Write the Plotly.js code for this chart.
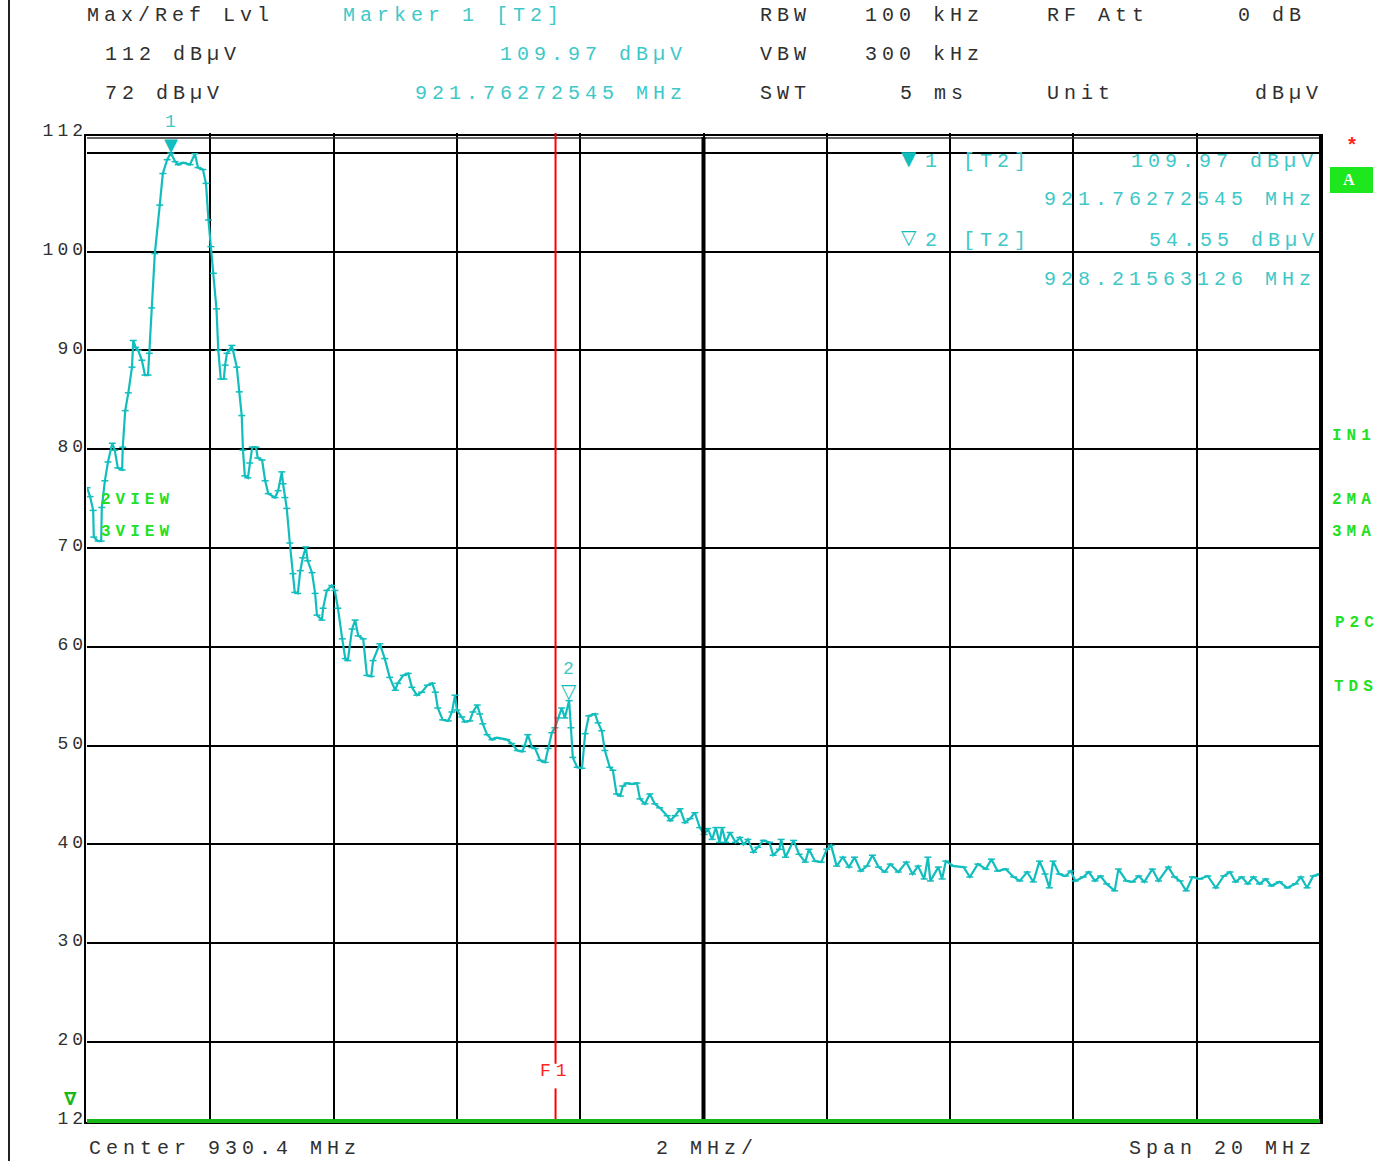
<!DOCTYPE html>
<html>
<head>
<meta charset="utf-8">
<script src="https://cdn.plot.ly/plotly-3.0.1.min.js"></script>
<style>
  html,body{margin:0;padding:0;background:#fff;}
  #chart{width:1390px;height:1161px;}
  .annotation-text{letter-spacing:5px;}
  .ytick text{letter-spacing:4px;}
</style>
</head>
<body>
<div id="chart"></div>
<script>
// ---- data (frequency in MHz, level in dBµV) ----
const freqMHz = [
920.40,920.45,920.50,920.51,920.58,920.63,920.64,920.69,920.74,920.81,920.85,920.90,920.97,920.98,
921.02,921.07,921.13,921.15,921.19,921.23,921.29,921.34,921.39,921.41,921.45,921.50,921.58,921.63,
921.70,921.76,921.83,921.88,921.96,922.07,922.15,922.20,922.28,922.33,922.37,922.41,922.45,922.50,
922.53,922.57,922.62,922.64,922.67,922.71,922.75,922.77,922.83,922.87,922.91,922.93,922.96,923.01,
923.04,923.08,923.14,923.17,923.24,923.29,923.34,923.45,923.50,923.56,923.58,923.61,923.64,923.69,
923.74,923.77,923.82,923.86,923.90,923.95,923.98,924.05,924.10,924.13,924.21,924.23,924.29,924.37,
924.42,924.47,924.54,924.59,924.63,924.70,924.75,924.80,924.88,924.94,925.01,925.04,925.15,925.23,
925.31,925.40,925.44,925.53,925.61,925.67,925.75,925.83,925.92,926.00,926.05,926.09,926.17,926.26,
926.32,926.37,926.40,926.48,926.53,926.61,926.66,926.73,926.77,926.82,926.89,926.97,927.05,927.13,
927.21,927.29,927.38,927.46,927.50,927.55,927.62,927.67,927.75,927.83,927.88,927.94,927.99,928.04,
928.10,928.15,928.22,928.25,928.28,928.35,928.43,928.48,928.54,928.64,928.69,928.75,928.80,928.88,
928.93,928.99,929.05,929.09,929.16,929.24,929.32,929.37,929.45,929.53,929.61,929.69,929.81,929.86,
929.94,930.02,930.10,930.18,930.26,
930.34,930.41,930.47,930.54,930.60,930.66,930.70,930.76,930.83,930.92,930.99,931.05,931.12,931.21,
931.28,931.37,931.47,931.53,931.63,931.66,931.73,931.86,931.95,932.05,932.11,932.21,932.31,932.40,
932.47,932.56,932.66,932.76,932.85,932.95,933.05,933.14,933.24,933.34,933.43,933.56,933.69,933.79,
933.88,933.98,934.04,934.08,934.21,934.27,934.33,934.46,934.62,934.72,934.85,934.98,935.07,935.17,
935.30,935.43,935.53,935.65,935.75,935.85,935.94,936.01,936.07,936.17,936.27,936.36,936.43,936.56,
936.65,936.75,936.84,936.94,937.07,937.13,937.26,937.36,937.46,937.55,937.68,937.78,937.94,938.04,
938.13,938.23,938.33,938.45,938.58,938.71,938.84,938.94,939.03,939.13,939.23,939.32,939.42,939.52,
939.61,939.74,939.87,940.00,940.09,940.19,940.29,940.40
];
const levelDbuV = [
76.1,75.2,73.8,71.1,70.7,70.7,74.1,76.8,78.7,80.6,79.9,78.1,77.9,80.2,
83.9,85.7,88.3,91.0,90.3,90.0,89.0,87.5,87.5,89.7,94.3,99.8,104.7,107.9,
109.3,109.97,109.1,108.8,109.0,108.8,109.9,108.5,108.3,106.9,103.2,100.5,97.8,94.2,
90.0,87.1,87.1,88.5,89.7,90.0,90.5,90.0,88.3,85.8,83.4,79.9,77.3,77.1,
78.6,80.2,80.2,79.1,78.9,76.8,75.5,75.1,75.8,77.7,76.5,75.1,74.0,70.5,
67.4,65.5,65.4,67.7,69.0,70.1,68.7,67.5,65.4,63.2,62.7,63.9,65.7,66.2,
65.7,63.9,60.8,58.8,58.6,61.8,62.7,61.1,60.8,57.1,57.0,58.6,60.3,58.8,
56.9,55.6,56.3,57.1,57.3,55.9,55.1,55.4,56.1,56.3,55.4,53.8,52.6,52.5,
53.4,55.1,53.6,52.9,52.4,52.5,53.4,54.1,53.2,52.2,51.1,50.6,50.8,50.7,
50.6,50.2,49.5,49.4,50.0,51.1,49.8,49.7,48.5,48.3,49.7,51.3,51.8,52.8,
53.8,52.8,54.55,51.8,48.8,47.8,47.7,51.2,53.0,53.2,52.3,51.5,49.5,47.8,
47.5,45.1,44.9,45.9,46.2,46.1,46.2,44.6,44.1,45.1,44.1,43.7,42.9,42.4,
42.9,43.6,42.2,42.6,43.2,
41.7,41.0,41.6,40.5,41.7,40.2,41.7,40.2,41.2,40.2,40.7,40.0,40.5,39.2,
39.7,40.4,40.2,38.9,39.5,40.5,38.7,40.4,39.0,38.2,39.5,38.3,38.2,39.5,
39.9,37.8,38.7,37.7,38.7,37.3,37.8,38.9,37.7,37.2,38.0,37.2,38.2,37.0,
37.8,36.5,38.7,36.3,37.7,36.5,38.3,37.8,37.7,36.7,38.0,37.5,38.5,37.3,
37.5,36.7,36.3,37.2,36.2,38.3,37.0,35.6,38.3,37.0,36.8,37.3,36.3,36.7,
37.2,36.3,36.8,36.0,35.3,37.5,36.3,36.2,36.8,36.2,37.5,36.3,37.7,36.7,
36.3,35.3,36.7,36.5,36.8,35.6,36.8,37.2,36.2,36.7,36.0,36.7,36.0,36.5,
35.8,36.2,35.6,36.0,36.7,35.6,36.8,37.0
];
const centerMHz = 930.4, spanMHz = 20, divMHz = 2;
const refLevel = 112, bottomLevel = 12;
const yTickVals = [12,20,30,40,50,60,70,80,90,100,110,112];
const yTickText = ['12','20','30','40','50','60','70','80','90','100','','112'];
const marker1 = {f: 921.76272545, lvl: 109.97};
const marker2 = {f: 928.21563126, lvl: 54.55};
const f1Line = 928.0;

// ---- styling ----
const CY = '#12bdbd', CYT = '#3ec8c8', TXT = '#303030', GRN = '#22e022';
const FONT = 'Liberation Mono, Cousine, monospace';
const L = 87, R = 1320, T = 133, B = 1121;
const W = R - L, H = B - T;
const px = x => (x - L) / W, py = y => (B - y) / H;

function A(text, x, y, color, size, bold, fam){
  return {text: bold ? '<b>'+text+'</b>' : text, xref:'paper', yref:'paper',
    x: px(x), y: py(y), xanchor:'left', yanchor:'middle', showarrow:false,
    font:{family:fam||FONT, size:size||20, color:color||TXT}};
}

const ann = [
  A('Max/Ref Lvl', 85, 15), A('Marker 1 [T2]', 341, 15, CYT),
  A('RBW', 758, 15), A('100 kHz', 863, 15), A('RF Att', 1045, 15), A('0 dB', 1236, 15),
  A('112 dBµV', 103, 55), A('109.97 dBµV', 498, 55, CYT),
  A('VBW', 758, 55), A('300 kHz', 863, 55),
  A('72 dBµV', 103, 94), A('921.76272545 MHz', 413, 94, CYT),
  A('SWT', 758, 94), A('5 ms', 898, 94), A('Unit', 1045, 94), A('dBµV', 1253, 94),
  // marker table inside the diagram
  A('▼', 899, 158, CY, 20, false, 'DejaVu Sans'), A('1', 923, 161, CYT),
  A('[T2]', 961, 161, CYT), A('109.97 dBµV', 1129, 161, CYT),
  A('921.76272545 MHz', 1042, 200, CYT),
  A('▽', 899, 237, CY, 20, false, 'DejaVu Sans'), A('2', 923, 240, CYT),
  A('[T2]', 961, 240, CYT), A('54.55 dBµV', 1147, 240, CYT),
  A('928.21563126 MHz', 1042, 279, CYT),
  // bottom line
  A('Center 930.4 MHz', 87, 1148), A('2 MHz/', 654, 1148), A('Span 20 MHz', 1127, 1148),
  // red F1
  A('F1', 538, 1071, '#ff2020', 18),
  // green side labels
  A('2VIEW', 99, 500, GRN, 16, true), A('3VIEW', 99, 532, GRN, 16, true),
  A('IN1', 1330, 436, GRN, 16, true), A('2MA', 1330, 500, GRN, 16, true),
  A('3MA', 1330, 532, GRN, 16, true), A('P2C', 1333, 623, GRN, 16, true),
  A('TDS', 1332, 687, GRN, 16, true),
  A('∇', 62, 1098, '#18b818', 18, true, 'DejaVu Sans'),
  A('*', 1344, 146, '#ff2020', 20, true),
  // marker symbols on the trace
  {text:'▼', x: marker1.f, y: marker1.lvl, xref:'x', yref:'y', xanchor:'center', yanchor:'bottom',
    showarrow:false, font:{family:'DejaVu Sans', size:18, color:CY}, yshift:-4, xshift:2},
  {text:'1', x: marker1.f, y: marker1.lvl, xref:'x', yref:'y', xanchor:'center', yanchor:'bottom',
    showarrow:false, font:{family:FONT, size:18, color:CYT}, yshift:19, xshift:2},
  {text:'▽', x: marker2.f, y: marker2.lvl, xref:'x', yref:'y', xanchor:'center', yanchor:'bottom',
    showarrow:false, font:{family:'DejaVu Sans', size:20, color:CY}, yshift:-4, xshift:2},
  {text:'2', x: marker2.f, y: marker2.lvl, xref:'x', yref:'y', xanchor:'center', yanchor:'bottom',
    showarrow:false, font:{family:FONT, size:18, color:CYT}, yshift:20, xshift:2}
];

const shapes = [
  // left page rule
  {type:'line', xref:'paper', yref:'paper', x0:px(9), x1:px(9), y0:py(1161), y1:py(0), line:{color:'#222', width:2}},
  // outer frame
  {type:'rect', xref:'paper', yref:'paper', x0:px(85), x1:px(1322), y0:py(1123), y1:py(135), line:{color:'#000', width:2}},
  // inner top line
  {type:'line', xref:'paper', yref:'paper', x0:px(87), x1:px(1320), y0:py(138), y1:py(138), line:{color:'#333', width:1.5}},
  // thick right edge
  {type:'line', xref:'paper', yref:'paper', x0:px(1321), x1:px(1321), y0:py(1124), y1:py(135), line:{color:'#000', width:4}},
  // centre frequency line
  {type:'line', xref:'x', yref:'paper', x0:centerMHz, x1:centerMHz, y0:0, y1:py(137), line:{color:'#000', width:4}},
  // F1 frequency line (broken around label)
  {type:'line', xref:'x', yref:'y', x0:f1Line, x1:f1Line, y0:17.8, y1:refLevel, line:{color:'#ff0000', width:2}},
  {type:'line', xref:'x', yref:'y', x0:f1Line, x1:f1Line, y0:bottomLevel, y1:15.3, line:{color:'#ff0000', width:2}},
  // green display line at bottom (level 12 = bottom edge of the diagram)
  {type:'line', xref:'paper', yref:'paper', x0:0, x1:1, y0:0, y1:0, line:{color:'#16b816', width:4}},
  // green "A" box
  {type:'rect', xref:'paper', yref:'paper', x0:px(1330), x1:px(1373), y0:py(193), y1:py(167), fillcolor:'#1de81d', line:{width:0}}
];
ann.push({text:'<b>A</b>', xref:'paper', yref:'paper', x:px(1351), y:py(180), xanchor:'center', yanchor:'middle',
  showarrow:false, font:{family:'Liberation Serif', size:16, color:'#ffffff'}});

const trace = {
  x: freqMHz, y: levelDbuV, type:'scatter', mode:'lines+markers',
  line:{color:CY, width:2.2},
  marker:{symbol:'line-ew', size:5, line:{color:CY, width:1.5}},
  hoverinfo:'skip'
};

const layout = {
  width:1390, height:1161,
  margin:{l:L, r:1390-R, t:T, b:1161-B, pad:0},
  paper_bgcolor:'#fff', plot_bgcolor:'#fff',
  showlegend:false,
  xaxis:{range:[centerMHz-spanMHz/2, centerMHz+spanMHz/2], tick0:centerMHz-spanMHz/2, dtick:divMHz,
    showgrid:true, gridcolor:'#000', gridwidth:2, showticklabels:false, ticks:'', zeroline:false,
    showline:false, fixedrange:true},
  yaxis:{range:[bottomLevel, refLevel], tickmode:'array', tickvals:yTickVals, ticktext:yTickText,
    showgrid:true, gridcolor:'#000', gridwidth:2, ticks:'', zeroline:false, showline:false,
    tickfont:{family:FONT, size:18, color:TXT}, ticklabelstandoff:-1, ticklabelshift:-3, fixedrange:true},
  shapes: shapes,
  annotations: ann
};

Plotly.newPlot('chart', [trace], layout, {displayModeBar:false, staticPlot:true});
</script>
</body>
</html>
